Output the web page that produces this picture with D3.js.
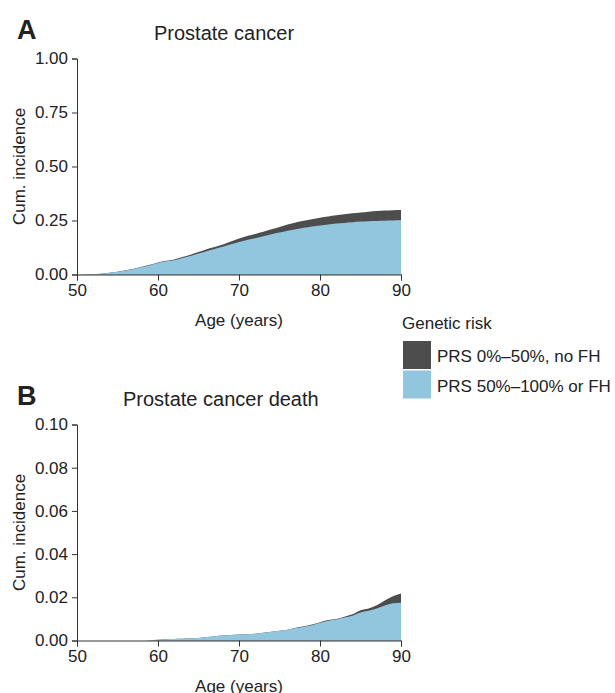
<!DOCTYPE html>
<html>
<head>
<meta charset="utf-8">
<script src="https://cdn.jsdelivr.net/npm/d3@7"></script>
<style>
  body { margin: 0; background: #fff; }
  svg text { font-family: "Liberation Sans", Arial, sans-serif; fill: #222; }
  .axis path, .axis line { stroke: #333; }
</style>
</head>
<body>
<div id="chart"></div>
<script>
// ages, one point per year
var ages = d3.range(50, 91);

// panel A: prostate cancer
var incHigh = [0, 0.001, 0.002, 0.004, 0.008, 0.013, 0.019, 0.026, 0.035, 0.043,
  0.053, 0.061, 0.066, 0.076, 0.086, 0.097, 0.108, 0.118, 0.128, 0.140,
  0.151, 0.160, 0.168, 0.177, 0.186, 0.194, 0.203, 0.210, 0.216, 0.222,
  0.227, 0.232, 0.236, 0.239, 0.242, 0.245, 0.247, 0.248, 0.249, 0.250, 0.251];
var incLow = [0, 0.001, 0.002, 0.004, 0.008, 0.013, 0.020, 0.027, 0.036, 0.045,
  0.056, 0.064, 0.070, 0.081, 0.092, 0.104, 0.117, 0.127, 0.139, 0.153,
  0.167, 0.178, 0.188, 0.198, 0.209, 0.220, 0.232, 0.241, 0.249, 0.256,
  0.263, 0.269, 0.274, 0.279, 0.283, 0.287, 0.291, 0.294, 0.296, 0.298, 0.299];

// panel B: prostate cancer death
var deathHigh = [0, 0, 0, 0, 0, 0, 0, 0, 0, 0.0001,
  0.0004, 0.0006, 0.0007, 0.0008, 0.0009, 0.0011, 0.0016, 0.0020, 0.0023, 0.0026,
  0.0028, 0.0029, 0.0031, 0.0036, 0.0040, 0.0045, 0.0050, 0.0058, 0.0064, 0.0071,
  0.0082, 0.0092, 0.0097, 0.0106, 0.0115, 0.0130, 0.0138, 0.0148, 0.0162, 0.0172, 0.0175];
var deathLow = [0, 0, 0, 0, 0, 0, 0, 0, 0, 0.0001,
  0.0004, 0.0006, 0.0007, 0.0008, 0.0009, 0.0011, 0.0016, 0.0020, 0.0023, 0.0026,
  0.0028, 0.0029, 0.0031, 0.0036, 0.0040, 0.0045, 0.0050, 0.0059, 0.0066, 0.0074,
  0.0085, 0.0095, 0.0100, 0.0110, 0.0121, 0.0140, 0.0148, 0.0163, 0.0185, 0.0205, 0.0218];

var xTicks = [50, 60, 70, 80, 90];
var yTicksA = [0, 0.25, 0.5, 0.75, 1];
var yTicksB = [0, 0.02, 0.04, 0.06, 0.08, 0.1];

var legendLabels = ["PRS 0%\u201350%, no FH", "PRS 50%\u2013100% or FH"];
var color = d3.scaleOrdinal().domain(legendLabels).range(["#4d4d4d", "#92c5de"]);

var svg = d3.select("#chart").append("svg")
    .attr("width", 615)
    .attr("height", 693);

function panel(opts) {
  var x = d3.scaleLinear().domain([50, 90]).range([77, 401]);
  var y = d3.scaleLinear().domain(opts.ydomain).range([opts.y0, opts.y0 - 216]);

  var g = svg.append("g");

  var area = function(vals) {
    return d3.area()
      .x(function(d, i) { return x(ages[i]); })
      .y0(y(0))
      .y1(function(d) { return y(d); })
      .curve(d3.curveMonotoneX)(vals);
  };

  // dark area drawn behind, blue on top
  g.append("path").attr("d", area(opts.low)).style("fill", color(legendLabels[0]));
  g.append("path").attr("d", area(opts.high)).style("fill", color(legendLabels[1]));

  g.append("g")
      .attr("class", "x axis")
      .attr("transform", "translate(0," + y(0) + ")")
      .call(d3.axisBottom(x).tickValues(xTicks).tickSizeOuter(0).tickSize(6).tickPadding(3))
      .call(function(s) { s.selectAll("text").style("font-size", "17px").style("font-family", null); });

  g.append("g")
      .attr("class", "y axis")
      .attr("transform", "translate(" + x(50) + ",0)")
      .call(d3.axisLeft(y).tickValues(opts.yticks).tickFormat(d3.format(opts.fmt)).tickSizeOuter(0).tickSize(5).tickPadding(4))
      .call(function(s) { s.selectAll("text").style("font-size", "17px").style("font-family", null); });

  g.selectAll(".axis text").attr("fill", null);

  g.append("text")
      .attr("x", 239)
      .attr("y", opts.y0 + 51)
      .attr("text-anchor", "middle")
      .style("font-size", "17px")
      .text("Age (years)");

  g.append("text")
      .attr("transform", "translate(25," + (opts.y0 - 108) + ") rotate(-90)")
      .attr("text-anchor", "middle")
      .style("font-size", "17px")
      .text("Cum. incidence");

  g.append("text")
      .attr("x", 17)
      .attr("y", opts.y0 - 236)
      .style("font-size", "27px")
      .style("font-weight", "bold")
      .text(opts.letter);

  g.append("text")
      .attr("x", opts.titleX)
      .attr("y", opts.y0 - 235)
      .style("font-size", "20px")
      .text(opts.title);
}

panel({ letter: "A", title: "Prostate cancer", titleX: 154, y0: 274.5,
        ydomain: [0, 1], yticks: yTicksA, fmt: ".2f", low: incLow, high: incHigh });
panel({ letter: "B", title: "Prostate cancer death", titleX: 123, y0: 640.5,
        ydomain: [0, 0.1], yticks: yTicksB, fmt: ".2f", low: deathLow, high: deathHigh });

// legend
var legend = svg.append("g").attr("transform", "translate(403,0)");
legend.append("text")
    .attr("x", -1)
    .attr("y", 329)
    .style("font-size", "17px")
    .text("Genetic risk");

var item = legend.selectAll(".legend")
    .data(legendLabels)
  .enter().append("g")
    .attr("class", "legend")
    .attr("transform", function(d, i) { return "translate(0," + (341 + i * 29.5) + ")"; });

item.append("rect")
    .attr("width", 28)
    .attr("height", 28)
    .style("fill", function(d) { return color(d); });

item.append("text")
    .attr("x", 34)
    .attr("y", 21)
    .style("font-size", "17px")
    .text(function(d) { return d; });
</script>
</body>
</html>
